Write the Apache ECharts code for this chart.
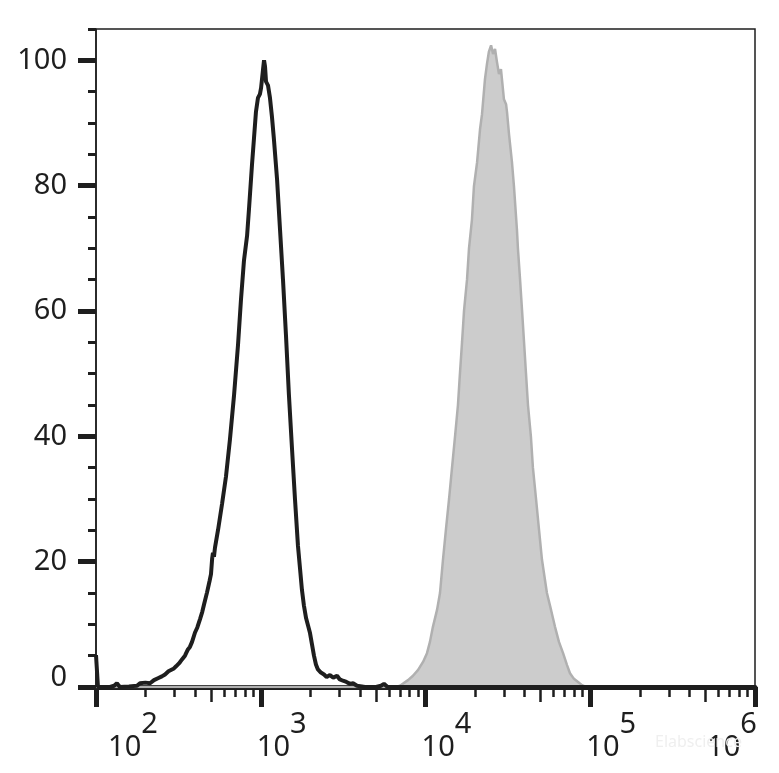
<!DOCTYPE html>
<html>
<head>
<meta charset="utf-8">
<script src="https://cdn.jsdelivr.net/npm/echarts@6/dist/echarts.min.js"></script>
<style>
html,body{margin:0;padding:0;background:#fff;}
#chart{width:779px;height:773px;}
</style>
</head>
<body>
<div id="chart"></div>
<script>
// ---- Data (x in log10 of fluorescence intensity, y in % of max) ----
const blackLogX = [2.000,2.012,2.085,2.110,2.127,2.145,2.200,2.249,2.267,2.300,2.328,2.352,2.376,2.400,2.419,2.440,2.449,2.470,2.486,2.505,2.522,2.540,2.558,2.570,2.583,2.601,2.615,2.631,2.645,2.656,2.674,2.690,2.698,2.705,2.710,2.716,2.722,2.741,2.765,2.789,2.813,2.838,2.862,2.880,2.898,2.917,2.929,2.947,2.959,2.971,2.983,2.995,3.002,3.014,3.020,3.026,3.032,3.044,3.056,3.068,3.080,3.099,3.117,3.135,3.153,3.171,3.190,3.208,3.226,3.238,3.250,3.262,3.275,3.287,3.299,3.311,3.323,3.335,3.347,3.365,3.384,3.400,3.420,3.440,3.463,3.480,3.499,3.520,3.542,3.560,3.584,3.633,3.700,3.730,3.748,3.770,6.000];
const blackY    = [5.1,0,0,0.2,0.6,0,0.1,0.2,0.6,0.7,0.6,1.1,1.4,1.7,2.0,2.5,2.7,2.9,3.3,3.8,4.4,5.0,6.0,6.4,7.2,8.7,9.5,10.8,12.0,13.2,15.1,17.0,18.0,20.5,21.4,20.8,22.2,25.1,29.2,33.6,39.5,46.6,54.6,61.8,68.0,72.0,76.4,83.4,87.6,91.8,94.0,94.6,95.6,98.6,100.0,99.0,96.6,96.0,94.0,91.0,87.4,81.0,73.0,65.0,56.2,46.6,37.9,29.9,22.5,19.0,15.5,13.0,11.0,9.8,8.6,6.8,5.0,3.6,2.8,2.3,2.0,1.6,1.9,1.5,1.8,1.2,1.0,0.8,0.5,0.6,0.2,0,0,0.2,0.5,0,0];

const grayLogX = [2.000,3.821,3.845,3.894,3.924,3.954,3.985,4.009,4.027,4.045,4.070,4.088,4.106,4.124,4.143,4.161,4.179,4.197,4.209,4.222,4.234,4.252,4.264,4.282,4.294,4.313,4.331,4.343,4.361,4.373,4.385,4.398,4.410,4.422,4.434,4.446,4.458,4.464,4.476,4.489,4.495,4.507,4.525,4.537,4.555,4.561,4.574,4.586,4.598,4.610,4.622,4.640,4.652,4.671,4.689,4.707,4.737,4.762,4.786,4.810,4.835,4.859,4.877,4.901,4.926,4.950,4.974,6.000];
const grayY    = [0,0,0.2,1.1,1.8,2.7,4.0,5.4,7.2,9.6,12.3,15.0,20.3,25.1,30.0,35.0,39.9,45.0,50.0,55.1,60.1,65.0,70.0,74.6,79.9,83.7,89.0,91.4,97.0,99.4,101.4,102.4,101.0,101.8,99.7,97.8,98.6,97.0,93.8,93.0,91.7,88.2,83.7,79.9,73.0,70.0,65.0,60.1,55.1,50.0,45.0,39.9,35.0,30.0,25.1,20.3,15.0,12.3,9.6,7.2,5.4,3.5,2.2,1.3,0.8,0.3,0,0];

// ---- Axis ticks / labels ----
const xMajorExponents = [2, 3, 4, 5, 6];
const xMinorMultipliers = [2, 3, 4, 6, 7, 8, 9];
const xMidMultipliers = [5];
const yMajorTicks = [0, 20, 40, 60, 80, 100];
const yMinorTicks = [5, 10, 15, 25, 30, 35, 45, 50, 55, 65, 70, 75, 85, 90, 95, 105];
const yMax = 105;
const watermark = 'Elabscience';

const decadeTicks = (mults) => {
  const out = [];
  for (let e = 2; e < 6; e++) mults.forEach(m => out.push(e + Math.log10(m)));
  return out;
};

const FONT = "'Noto Sans', sans-serif";
const FS = 29;
const INK = '#1e1e1e';
const gridBox = {left: 96, right: 24, top: 29, bottom: 86, outerBoundsMode: 'none', containLabel: false};

const chart = echarts.init(document.getElementById('chart'), null, {renderer: 'canvas'});

const hiddenAxisBase = {
  axisLine: {show: false},
  axisLabel: {show: false},
  splitLine: {show: false}
};

const tok = (extra) => Object.assign({fontSize: FS, fontFamily: FONT, color: INK}, extra);

chart.setOption({
  animation: false,
  backgroundColor: '#ffffff',
  title: {
    text: watermark, left: 650, top: 729,
    textStyle: {color: '#efefef', fontSize: 16, fontWeight: 'normal', fontFamily: "'Noto Sans', sans-serif"}
  },
  grid: [
    Object.assign({show: true, borderColor: INK, borderWidth: 1.5, backgroundColor: 'transparent'}, gridBox),
    Object.assign({show: false}, gridBox),
    Object.assign({show: false}, gridBox)
  ],
  xAxis: [
    {
      type: 'value', gridIndex: 0, min: 2, max: 6, interval: 1,
      axisLine: {show: true, lineStyle: {color: INK, width: 5}},
      splitLine: {show: false},
      axisTick: {show: true, inside: false, length: 20, customValues: xMajorExponents, lineStyle: {color: INK, width: 5}},
      axisLabel: {
        show: true, margin: 23, customValues: xMajorExponents,
        showMinLabel: true, showMaxLabel: true, hideOverlap: false,
        formatter: (v) => {
          const e = Math.round(v);
          if (e === 2) return '{b2|10}{s|' + e + '}';
          if (e === 6) return '{b|10}{s6|' + e + '}';
          return '{bm|10}{s|' + e + '}';
        },
        rich: {
          b:  tok({padding: [23, 0, 0, 0]}),
          bm: tok({padding: [23, 0, 0, 42]}),
          b2: tok({padding: [23, 0, 0, 74]}),
          s:  tok({padding: [0, 0, 23, 0]}),
          s6: tok({padding: [0, 46, 23, 0]})
        }
      }
    },
    Object.assign({
      type: 'value', gridIndex: 1, min: 2, max: 6, interval: 1,
      axisTick: {show: true, length: 10, customValues: decadeTicks(xMinorMultipliers), lineStyle: {color: INK, width: 2.5}}
    }, hiddenAxisBase),
    Object.assign({
      type: 'value', gridIndex: 2, min: 2, max: 6, interval: 1,
      axisTick: {show: true, length: 15, customValues: decadeTicks(xMidMultipliers), lineStyle: {color: INK, width: 2.5}}
    }, hiddenAxisBase)
  ],
  yAxis: [
    {
      type: 'value', gridIndex: 0, min: 0, max: yMax, interval: 20,
      axisLine: {show: true, lineStyle: {color: INK, width: 1.5}},
      splitLine: {show: false},
      axisTick: {show: true, length: 18, customValues: yMajorTicks, lineStyle: {color: INK, width: 5}},
      axisLabel: {
        show: true, margin: 29, customValues: yMajorTicks,
        formatter: (v) => v === 0 ? '{z|0}' : '{n|' + v + '}',
        rich: {
          n: tok({}),
          z: tok({padding: [0, 0, 18, 0]})
        }
      }
    },
    Object.assign({
      type: 'value', gridIndex: 1, min: 0, max: yMax, interval: 5,
      axisTick: {show: true, length: 8, customValues: yMinorTicks, lineStyle: {color: INK, width: 3}}
    }, hiddenAxisBase),
    Object.assign({
      type: 'value', gridIndex: 2, min: 0, max: yMax, interval: 5,
      axisTick: {show: false}
    }, hiddenAxisBase)
  ],
  series: [
    {
      name: 'stained', type: 'line', xAxisIndex: 0, yAxisIndex: 0,
      data: grayLogX.map((x, i) => [x, grayY[i]]),
      symbol: 'none', smooth: false,
      lineStyle: {color: '#b0b0b0', width: 2.5},
      areaStyle: {color: '#cccccc', opacity: 1},
      z: 2
    },
    {
      name: 'control', type: 'line', xAxisIndex: 0, yAxisIndex: 0,
      data: blackLogX.map((x, i) => [x, blackY[i]]),
      symbol: 'none', smooth: false,
      lineStyle: {color: INK, width: 4},
      z: 3
    }
  ]
});
</script>
</body>
</html>
